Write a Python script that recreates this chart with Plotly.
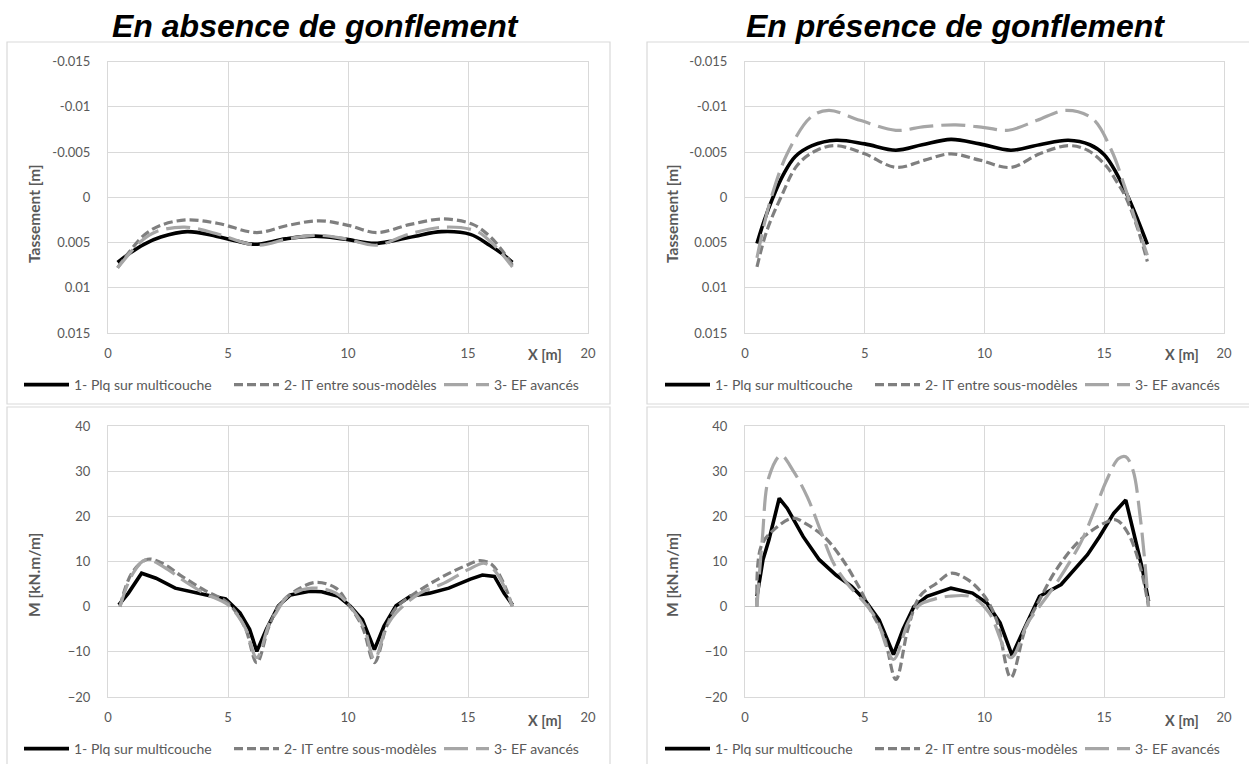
import plotly.graph_objects as go

W, H = 1249, 764

# ---------------- DATA ----------------
series_names = ["1- Plq sur multicouche", "2- IT entre sous-modèles", "3- EF avancés"]
panel_titles = ["En absence de gonflement", "En présence de gonflement"]

x_ticks = [0, 5, 10, 15, 20]
tass_tickvals = [-0.015, -0.01, -0.005, 0, 0.005, 0.01, 0.015]
tass_ticktext = ["-0.015", "-0.01", "-0.005", "0", "0.005", "0.01", "0.015"]
mom_tickvals = [-20, -10, 0, 10, 20, 30, 40]

# Settlement, no swelling
tass_abs_x1 = [0.4, 0.9, 1.5, 2.2, 3.3, 4.5, 5.3, 6.1, 7.4, 8.6, 9.8, 11.1, 11.9, 12.8, 13.9, 15.1, 15.9, 16.4, 16.85]
tass_abs_y1 = [0.0072, 0.0062, 0.0052, 0.0044, 0.0038, 0.0043, 0.0048, 0.0052, 0.0046, 0.0043, 0.0046, 0.0051, 0.0048, 0.0043, 0.0038, 0.0041, 0.0053, 0.0062, 0.0072]
tass_abs_x2 = [0.4, 0.9, 1.5, 2.2, 3.3, 4.6, 6.2, 7.5, 8.8, 10.0, 11.2, 12.6, 14.0, 15.2, 15.9, 16.4, 16.85]
tass_abs_y2 = [0.0078, 0.0060, 0.0042, 0.0031, 0.0025, 0.0029, 0.0039, 0.0031, 0.0026, 0.0031, 0.0039, 0.0030, 0.0024, 0.0030, 0.0043, 0.0058, 0.0075]
tass_abs_x3 = [0.4, 0.9, 1.4, 2.0, 3.2, 4.5, 6.2, 7.5, 8.7, 9.9, 11.2, 12.5, 14.0, 15.3, 15.9, 16.4, 16.85]
tass_abs_y3 = [0.0078, 0.0062, 0.0048, 0.0038, 0.0033, 0.0040, 0.0053, 0.0046, 0.0042, 0.0046, 0.0053, 0.0041, 0.0033, 0.0037, 0.0048, 0.0062, 0.0077]

# Settlement, with swelling
tass_pre_x1 = [0.5, 0.8, 1.17, 1.6, 2.1, 2.8, 3.8, 5.0, 6.3, 7.4, 8.6, 9.8, 11.1, 12.3, 13.5, 14.4, 15.0, 15.5, 16.0, 16.4, 16.8]
tass_pre_y1 = [0.0051, 0.0026, 0.0000, -0.0025, -0.0045, -0.0057, -0.0063, -0.0059, -0.0052, -0.0058, -0.0064, -0.0059, -0.0052, -0.0058, -0.0063, -0.0058, -0.0047, -0.0027, 0.0000, 0.0025, 0.0052]
tass_pre_x2 = [0.5, 0.9, 1.5, 2.2, 3.0, 3.8, 5.0, 6.3, 7.5, 8.6, 9.8, 11.1, 12.3, 13.5, 14.3, 15.1, 15.5, 15.9, 16.4, 16.8]
tass_pre_y2 = [0.0077, 0.0038, 0.0000, -0.0036, -0.0052, -0.0057, -0.0048, -0.0033, -0.0041, -0.0048, -0.0041, -0.0033, -0.0048, -0.0057, -0.0052, -0.0034, -0.0018, 0.0000, 0.0035, 0.0071]
tass_pre_x3 = [0.5, 0.8, 1.1, 1.76, 2.77, 3.5, 4.8, 6.3, 7.5, 8.8, 10.0, 11.0, 12.2, 13.4, 14.5, 15.3, 15.85, 16.3, 16.8]
tass_pre_y3 = [0.0067, 0.0030, 0.0000, -0.0048, -0.0089, -0.0096, -0.0085, -0.0074, -0.0078, -0.0080, -0.0077, -0.0074, -0.0085, -0.0096, -0.0087, -0.0052, -0.0012, 0.0025, 0.0064]

# Moment, no swelling
mom_abs_x1 = [0.45, 0.85, 1.4, 2.0, 2.8, 3.5, 4.1, 4.9, 5.5, 5.9, 6.2, 6.6, 7.1, 7.6, 8.4, 8.9, 9.6, 10.1, 10.6, 11.1, 11.5, 12.0, 12.6, 13.4, 14.2, 15.1, 15.6, 16.1, 16.5, 16.85]
mom_abs_y1 = [0.4, 3.0, 7.4, 6.3, 4.1, 3.4, 2.6, 1.7, -1.4, -5.0, -9.9, -5.0, 0.2, 2.6, 3.4, 3.3, 2.3, 0.1, -2.9, -9.5, -4.3, 0.2, 2.3, 3.0, 4.1, 6.1, 7.0, 6.7, 3.0, 0.4]
mom_abs_x2 = [0.5, 1.0, 1.65, 2.3, 3.0, 4.0, 5.0, 5.7, 6.2, 6.7, 7.2, 8.0, 8.7, 9.5, 10.0, 10.6, 11.1, 11.6, 12.0, 13.0, 14.0, 15.0, 15.5, 16.0, 16.5, 16.85]
mom_abs_y2 = [0.0, 7.5, 10.5, 9.5, 7.0, 3.7, 0.8, -4.5, -12.4, -4.5, 0.8, 4.1, 5.4, 4.1, 0.7, -4.5, -12.4, -4.5, -0.3, 3.7, 6.8, 9.3, 10.2, 9.3, 5.0, 0.0]
mom_abs_x3 = [0.5, 1.0, 1.57, 2.5, 3.0, 4.0, 5.0, 5.7, 6.2, 6.7, 7.0, 7.5, 8.5, 9.5, 10.3, 10.7, 11.1, 11.6, 12.0, 13.0, 14.0, 15.0, 15.7, 16.2, 16.85]
mom_abs_y3 = [0.0, 7.0, 10.4, 8.2, 6.3, 3.0, 0.4, -4.5, -11.3, -4.0, -1.4, 2.3, 4.1, 3.0, -1.4, -5.0, -11.7, -4.5, -1.4, 3.0, 5.2, 8.2, 9.6, 7.4, 0.0]

# Moment, with swelling
mom_pre_x1 = [0.5, 0.75, 1.0, 1.43, 1.76, 2.43, 3.1, 3.8, 4.45, 5.0, 5.6, 6.2, 6.6, 7.05, 7.6, 8.6, 9.5, 10.1, 10.65, 11.15, 11.65, 12.3, 13.2, 13.8, 14.3, 14.8, 15.4, 15.9, 16.35, 16.6, 16.85]
mom_pre_y1 = [2.3, 10.4, 14.8, 24.0, 21.8, 15.5, 10.4, 7.0, 4.5, 1.5, -2.9, -10.6, -5.0, 0.0, 2.3, 4.1, 3.0, 0.8, -3.6, -10.8, -5.0, 2.3, 4.9, 8.5, 11.5, 15.5, 20.7, 23.6, 13.3, 8.2, 1.2]
mom_pre_x2 = [0.5, 0.67, 1.2, 2.0, 2.5, 3.3, 4.0, 4.7, 5.3, 5.8, 6.3, 6.8, 7.3, 8.0, 8.6, 9.3, 10.0, 10.5, 11.1, 11.7, 12.3, 13.0, 14.0, 15.0, 15.5, 16.0, 16.5, 16.85]
mom_pre_y2 = [0.0, 13.3, 17.0, 19.6, 18.5, 15.5, 11.0, 4.9, -1.4, -6.5, -16.1, -5.0, 2.3, 5.2, 7.4, 6.0, 2.3, -2.9, -15.7, -5.0, 1.5, 8.2, 14.8, 18.5, 19.2, 16.2, 8.9, 0.0]
mom_pre_x3 = [0.5, 0.72, 1.0, 1.5, 2.0, 2.6, 3.2, 3.7, 4.3, 5.0, 5.5, 6.2, 6.8, 7.3, 7.8, 8.5, 9.5, 10.2, 11.1, 11.8, 12.4, 13.0, 14.0, 14.6, 15.1, 15.6, 15.9, 16.2, 16.5, 16.7, 16.85]
mom_pre_y3 = [0.0, 14.8, 28.7, 33.5, 30.2, 24.3, 16.2, 9.6, 4.9, 0.8, -2.9, -11.7, -3.6, 0.4, 1.5, 2.3, 2.1, -1.4, -11.3, -3.6, 0.8, 5.2, 14.0, 21.4, 28.0, 32.8, 33.2, 30.2, 19.9, 9.6, 0.0]

# ---------------- STYLE ----------------
FONT = "Lato, Carlito, 'Open Sans', sans-serif"
TXT = "#595959"
GRID = "#d9d9d9"
TICK_SIZE = 13
LEG_SIZE = 14
styles = [
    dict(color="#000000", width=3.6, dash="solid"),
    dict(color="#7f7f7f", width=3.2, dash="9px,4px"),
    dict(color="#a6a6a6", width=3.2, dash="24px,8px"),
]

def px_x(p):
    return p / W

def px_y(p):
    return 1 - p / H

fig = go.Figure()

panels = [
    ("x", "y", "legend",
     [(tass_abs_x1, tass_abs_y1), (tass_abs_x2, tass_abs_y2), (tass_abs_x3, tass_abs_y3)], False),
    ("x2", "y2", "legend2",
     [(tass_pre_x1, tass_pre_y1), (tass_pre_x2, tass_pre_y2), (tass_pre_x3, tass_pre_y3)], False),
    ("x3", "y3", "legend3",
     [(mom_abs_x1, mom_abs_y1), (mom_abs_x2, mom_abs_y2), (mom_abs_x3, mom_abs_y3)], True),
    ("x4", "y4", "legend4",
     [(mom_pre_x1, mom_pre_y1), (mom_pre_x2, mom_pre_y2), (mom_pre_x3, mom_pre_y3)], True),
]

for xa, ya, lg, data, is_mom in panels:
    for i, (xs, ys) in enumerate(data):
        shape = "linear" if (is_mom and i == 0) else "spline"
        fig.add_trace(go.Scatter(
            x=xs, y=ys, mode="lines", name=series_names[i],
            line=dict(color=styles[i]["color"], width=styles[i]["width"],
                      dash=styles[i]["dash"], shape=shape, smoothing=1.0),
            xaxis=xa, yaxis=ya, legend=lg, hoverinfo="skip",
        ))

left_dom = [px_x(108), px_x(588)]
right_dom = [px_x(745), px_x(1224)]
top_dom = [px_y(333), px_y(61.5)]
bot_dom = [px_y(697), px_y(426)]

def xaxis(dom, anchor):
    return dict(domain=dom, anchor=anchor, range=[0, 20], tickvals=x_ticks,
                showgrid=True, gridcolor=GRID, gridwidth=1, zeroline=False,
                showline=True, linecolor=GRID, linewidth=1, mirror=True,
                ticks="", ticklabelstandoff=8,
                tickfont=dict(family=FONT, size=TICK_SIZE, color=TXT), fixedrange=True)

def yaxis_tass(dom, anchor):
    return dict(domain=dom, anchor=anchor, range=[0.015, -0.015],
                tickvals=tass_tickvals, ticktext=tass_ticktext,
                showgrid=True, gridcolor=GRID, gridwidth=1,
                zeroline=True, zerolinecolor=GRID, zerolinewidth=1,
                showline=True, linecolor=GRID, linewidth=1, mirror=True,
                ticks="", ticklabelstandoff=14,
                tickfont=dict(family=FONT, size=TICK_SIZE, color=TXT), fixedrange=True)

def yaxis_mom(dom, anchor):
    return dict(domain=dom, anchor=anchor, range=[-20, 40], tickvals=mom_tickvals,
                showgrid=True, gridcolor=GRID, gridwidth=1,
                zeroline=True, zerolinecolor="#c6c6c6", zerolinewidth=1,
                showline=True, linecolor=GRID, linewidth=1, mirror=True,
                ticks="", ticklabelstandoff=14,
                tickfont=dict(family=FONT, size=TICK_SIZE, color=TXT), fixedrange=True)

def legend(x_left, yc):
    return dict(orientation="h", x=x_left, y=yc, xanchor="left", yanchor="middle",
                font=dict(family=FONT, size=LEG_SIZE, color=TXT), bgcolor="rgba(0,0,0,0)",
                itemwidth=45, entrywidth=150, entrywidthmode="pixels",
                tracegroupgap=0, itemclick=False, itemdoubleclick=False)

TITLE_FONT = dict(family="Liberation Sans, Arial, sans-serif", size=32, color="#000000")
AX_FONT = dict(family=FONT, size=15.5, color=TXT)
XM_FONT = dict(family=FONT, size=14.5, color=TXT)
annotations = [
    dict(text="<b><i>" + panel_titles[0] + "</i></b>", x=px_x(315), y=px_y(26), font=TITLE_FONT),
    dict(text="<b><i>" + panel_titles[1] + "</i></b>", x=px_x(955), y=px_y(26), font=TITLE_FONT),
    dict(text="<b>Tassement [m]</b>", x=px_x(34), y=px_y(214), textangle=-90, font=AX_FONT),
    dict(text="<b>Tassement [m]</b>", x=px_x(672), y=px_y(214), textangle=-90, font=AX_FONT),
    dict(text="<b>M [kN.m/m]</b>", x=px_x(34), y=px_y(575), textangle=-90, font=AX_FONT),
    dict(text="<b>M [kN.m/m]</b>", x=px_x(672), y=px_y(575), textangle=-90, font=AX_FONT),
    dict(text="<b>X [m]</b>", x=px_x(545), y=px_y(355), font=XM_FONT),
    dict(text="<b>X [m]</b>", x=px_x(1182), y=px_y(355), font=XM_FONT),
    dict(text="<b>X [m]</b>", x=px_x(545), y=px_y(720), font=XM_FONT),
    dict(text="<b>X [m]</b>", x=px_x(1182), y=px_y(720), font=XM_FONT),
]
for a in annotations:
    a.update(xref="paper", yref="paper", showarrow=False, xanchor="center", yanchor="middle")

shapes = []
for (x0, y0, x1, y1) in [(7, 42, 610, 404), (7, 407, 610, 775), (647, 42, 1260, 404), (647, 407, 1260, 775)]:
    shapes.append(dict(type="rect", xref="paper", yref="paper",
                       x0=px_x(x0), x1=px_x(x1), y0=px_y(y1), y1=px_y(y0),
                       line=dict(color=GRID, width=1.2), fillcolor="rgba(0,0,0,0)", layer="below"))

fig.update_layout(
    width=W, height=H, margin=dict(l=0, r=0, t=0, b=0, autoexpand=False),
    paper_bgcolor="white", plot_bgcolor="white",
    showlegend=True,
    xaxis=xaxis(left_dom, "y"), yaxis=yaxis_tass(top_dom, "x"),
    xaxis2=xaxis(right_dom, "y2"), yaxis2=yaxis_tass(top_dom, "x2"),
    xaxis3=xaxis(left_dom, "y3"), yaxis3=yaxis_mom(bot_dom, "x3"),
    xaxis4=xaxis(right_dom, "y4"), yaxis4=yaxis_mom(bot_dom, "x4"),
    legend=legend(px_x(19), px_y(385)),
    legend2=legend(px_x(660), px_y(385)),
    legend3=legend(px_x(19), px_y(749)),
    legend4=legend(px_x(660), px_y(749)),
    annotations=annotations, shapes=shapes,
)

fig.write_html("out.html", config={"displayModeBar": False},
               post_script="document.body.style.margin='0px';document.body.style.overflow='hidden';")
